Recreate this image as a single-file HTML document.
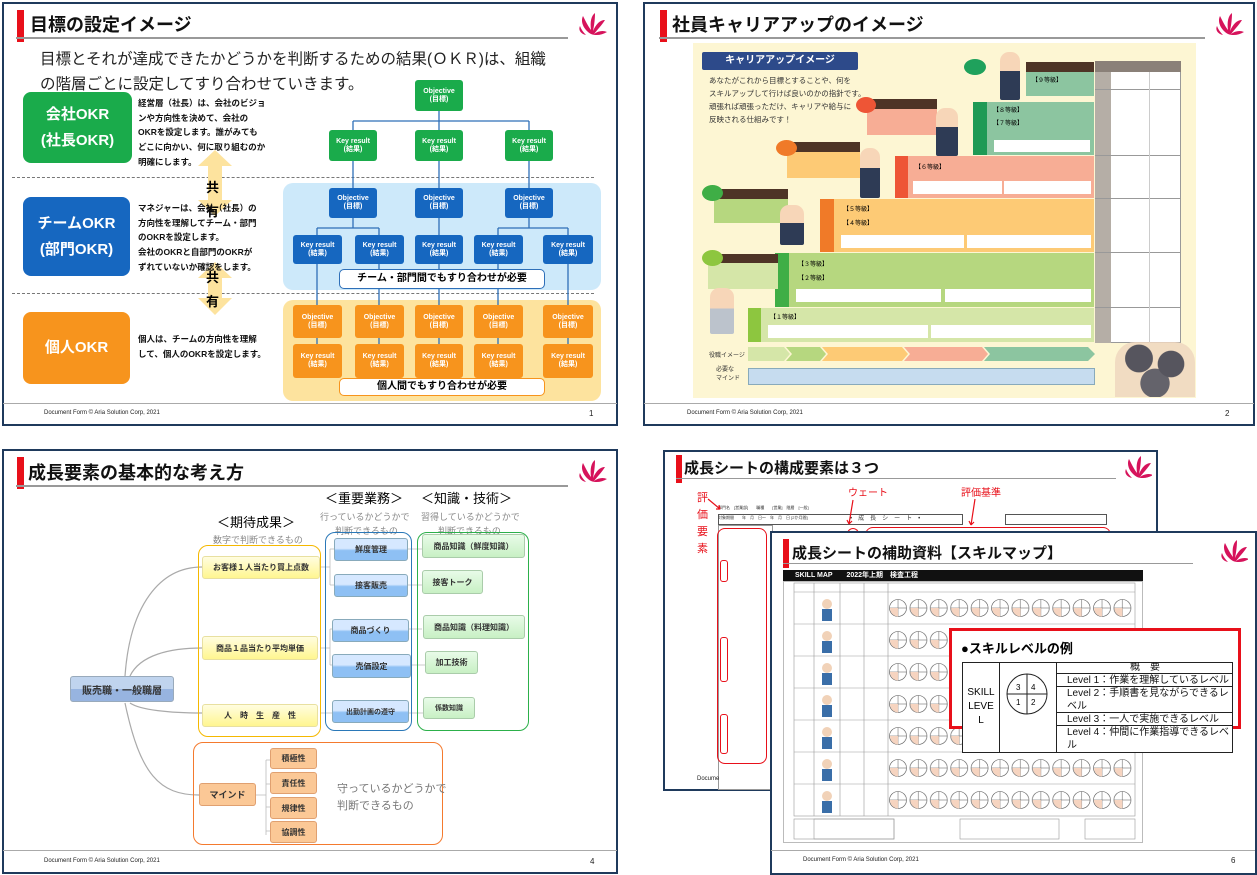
<!DOCTYPE html>
<html><head><meta charset="utf-8">
<style>
*{margin:0;padding:0;box-sizing:border-box}
body{width:1257px;height:875px;background:#fff;position:relative;overflow:hidden;font-family:"Liberation Sans","Noto Sans CJK JP",sans-serif;}
.a{position:absolute}
.sl{position:absolute;border:2px solid #1f3a5c;background:#fff}
.bar{position:absolute;width:7px;height:32px;background:#e8101a}
.tt{position:absolute;font-size:18px;font-weight:bold;color:#111;white-space:nowrap;line-height:20px}
.ul{position:absolute;height:2px;background:#999}
.ft{position:absolute;font-size:6px;color:#222;white-space:nowrap}
.fl{position:absolute;height:1px;background:#aaa}
.bx{position:absolute;color:#fff;font-weight:bold;text-align:center;border-radius:3px;font-size:7px;line-height:8px;display:flex;align-items:center;justify-content:center;flex-direction:column}
.big{position:absolute;color:#fff;font-weight:bold;font-size:15px;line-height:26px;border-radius:8px;display:flex;align-items:center;justify-content:center;text-align:center}
.d9{position:absolute;font-size:8.5px;font-weight:bold;line-height:14.7px;color:#111;white-space:nowrap}
.n{position:absolute;border-radius:3px;font-size:8px;font-weight:bold;color:#333;display:flex;align-items:center;justify-content:center;white-space:nowrap}
.y{background:linear-gradient(#fffde0,#fff690);border:1px solid #e8e0a0}
.b{background:linear-gradient(#d6e8ff 45%,#8ec0f4 55%);border:1px solid #8ab}
.g{background:linear-gradient(#e8fbe8,#c8f0c4);border:1px solid #aca}
.o{background:#fbc896;border:1px solid #e0a070}
.gr{position:absolute;font-size:9px;color:#888;white-space:nowrap}
</style></head><body>

<svg width="0" height="0" style="position:absolute"><defs>
<g id="logo"><path d="M15 22 C8 18 4 10 7 4 C10 10 12 14 15 18 C14 10 15 4 19 1 C19 8 18 14 17 19 C20 12 24 8 29 8 C26 13 21 18 18 22 C22 19 27 18 31 20 C26 23 20 24 15 22Z" fill="#d6135b"/><path d="M4 14 C2 18 5 22 10 23 C7 20 5 17 4 14Z" fill="#d6135b"/></g>
<pattern id="circ" x="888" y="592" width="20.4" height="32" patternUnits="userSpaceOnUse"><circle cx="10" cy="16" r="8.5" fill="#fff" stroke="#555" stroke-width=".6"/><path d="M10 7.5v17M1.5 16h17" stroke="#555" stroke-width=".5"/><path d="M2 16a8.5 8.5 0 0 0 8 8.5v-8.5z" fill="#f6d4c0"/></pattern>
</defs></svg>

<!-- ===== SLIDE 1 ===== -->
<div class="sl" style="left:2px;top:2px;width:616px;height:424px"></div>
<div class="bar" style="left:17px;top:10px"></div>
<div class="tt" style="left:30px;top:15px">目標の設定イメージ</div>
<div class="ul" style="left:16px;top:37px;width:552px"></div>
<svg class="a" style="left:576px;top:12px" width="34" height="26"><use href="#logo"/></svg>
<div class="a" style="left:40px;top:47px;font-size:15.5px;line-height:25px;color:#222;white-space:nowrap">目標とそれが達成できたかどうかを判断するための結果(ＯＫＲ)は、組織<br>の階層ごとに設定してすり合わせていきます。</div>
<div class="a" style="left:283px;top:183px;width:318px;height:107px;background:#cde9fa;border-radius:10px"></div>
<div class="a" style="left:283px;top:300px;width:318px;height:101px;background:#fde39e;border-radius:10px"></div>
<div class="a" style="left:12px;top:177px;width:582px;border-top:1.5px dashed #777"></div>
<div class="a" style="left:12px;top:293px;width:582px;border-top:1.5px dashed #777"></div>
<svg class="a" style="left:0;top:0" width="620" height="430">
<g stroke="#2e6fb8" stroke-width="1.3" fill="none">
<path d="M439 111V121M353 121H529M353 121V130M439 121V130M529 121V130"/>
<path d="M353 161V188M439 161V188M529 161V188"/>
<path d="M353 218V228M317 228H379M317 228V235M379 228V235M439 218V235M529 218V228M498 228H568M498 228V235M568 228V235"/>
<path d="M317 264V305M379 264V305M439 264V305M498 264V305M568 264V305"/>
<path d="M317 338V344M379 338V344M439 338V344M498 338V344M568 338V344"/>
</g>
<path d="M215 150L232 166H222V200H232L215 216L198 200H208V166H198Z" fill="#fde39e"/>
<path d="M215 262L232 278H222V298H232L215 315L198 298H208V278H198Z" fill="#fde39e"/>
</svg>
<div class="a" style="left:206px;top:176px;font-size:13px;font-weight:bold;line-height:24px">共<br>有</div>
<div class="a" style="left:206px;top:266px;font-size:13px;font-weight:bold;line-height:24px">共<br>有</div>
<div class="big" style="left:23px;top:92px;width:109px;height:71px;background:#1aab4b">会社OKR<br>(社長OKR)</div>
<div class="big" style="left:23px;top:197px;width:107px;height:79px;background:#1667c0">チームOKR<br>(部門OKR)</div>
<div class="big" style="left:23px;top:312px;width:107px;height:72px;background:#f7941d">個人OKR</div>
<div class="d9" style="left:138px;top:96px">経営層（社長）は、会社のビジョ<br>ンや方向性を決めて、会社の<br>OKRを設定します。誰がみても<br>どこに向かい、何に取り組むのか<br>明確にします。</div>
<div class="d9" style="left:138px;top:201px">マネジャーは、会社（社長）の<br>方向性を理解してチーム・部門<br>のOKRを設定します。<br>会社のOKRと自部門のOKRが<br>ずれていないか確認をします。</div>
<div class="d9" style="left:138px;top:332px">個人は、チームの方向性を理解<br>して、個人のOKRを設定します。</div>
<div class="bx" style="left:415px;top:80px;width:48px;height:31px;background:#1aab4b">Objective<br>(目標)</div>
<div class="bx" style="left:329px;top:130px;width:48px;height:31px;background:#1aab4b">Key result<br>(結果)</div>
<div class="bx" style="left:415px;top:130px;width:48px;height:31px;background:#1aab4b">Key result<br>(結果)</div>
<div class="bx" style="left:505px;top:130px;width:48px;height:31px;background:#1aab4b">Key result<br>(結果)</div>
<div class="bx" style="left:329px;top:188px;width:48px;height:30px;background:#1667c0">Objective<br>(目標)</div>
<div class="bx" style="left:415px;top:188px;width:48px;height:30px;background:#1667c0">Objective<br>(目標)</div>
<div class="bx" style="left:505px;top:188px;width:48px;height:30px;background:#1667c0">Objective<br>(目標)</div>
<div class="bx" style="left:293px;top:235px;width:49px;height:29px;background:#1667c0">Key result<br>(結果)</div>
<div class="bx" style="left:355px;top:235px;width:49px;height:29px;background:#1667c0">Key result<br>(結果)</div>
<div class="bx" style="left:415px;top:235px;width:48px;height:29px;background:#1667c0">Key result<br>(結果)</div>
<div class="bx" style="left:474px;top:235px;width:49px;height:29px;background:#1667c0">Key result<br>(結果)</div>
<div class="bx" style="left:543px;top:235px;width:50px;height:29px;background:#1667c0">Key result<br>(結果)</div>
<div class="a" style="left:339px;top:269px;width:206px;height:20px;background:#fff;border:1px solid #2e6fb8;border-radius:5px;font-size:10px;font-weight:bold;text-align:center;line-height:18px">チーム・部門間でもすり合わせが必要</div>
<div class="bx" style="left:293px;top:305px;width:49px;height:33px;background:#f7941d">Objective<br>(目標)</div>
<div class="bx" style="left:355px;top:305px;width:49px;height:33px;background:#f7941d">Objective<br>(目標)</div>
<div class="bx" style="left:415px;top:305px;width:48px;height:33px;background:#f7941d">Objective<br>(目標)</div>
<div class="bx" style="left:474px;top:305px;width:49px;height:33px;background:#f7941d">Objective<br>(目標)</div>
<div class="bx" style="left:543px;top:305px;width:50px;height:33px;background:#f7941d">Objective<br>(目標)</div>
<div class="bx" style="left:293px;top:344px;width:49px;height:34px;background:#f7941d">Key result<br>(結果)</div>
<div class="bx" style="left:355px;top:344px;width:49px;height:34px;background:#f7941d">Key result<br>(結果)</div>
<div class="bx" style="left:415px;top:344px;width:48px;height:34px;background:#f7941d">Key result<br>(結果)</div>
<div class="bx" style="left:474px;top:344px;width:49px;height:34px;background:#f7941d">Key result<br>(結果)</div>
<div class="bx" style="left:543px;top:344px;width:50px;height:34px;background:#f7941d">Key result<br>(結果)</div>
<div class="a" style="left:339px;top:378px;width:206px;height:18px;background:#fff;border:1px solid #f7941d;border-radius:5px;font-size:10px;font-weight:bold;text-align:center;line-height:16px">個人間でもすり合わせが必要</div>
<div class="fl" style="left:3px;top:403px;width:614px"></div>
<div class="ft" style="left:44px;top:410px">Document Form © Aria Solution Corp, 2021</div>
<div class="ft" style="left:589px;top:409px;font-size:8px">1</div>

<!-- ===== SLIDE 2 ===== -->
<div class="sl" style="left:643px;top:2px;width:612px;height:424px"></div>
<div class="bar" style="left:660px;top:10px"></div>
<div class="tt" style="left:672px;top:15px">社員キャリアアップのイメージ</div>
<div class="ul" style="left:659px;top:37px;width:546px"></div>
<svg class="a" style="left:1213px;top:12px" width="34" height="26"><use href="#logo"/></svg>
<div class="a" style="left:693px;top:43px;width:503px;height:355px;background:#fdf6d3"></div>
<div class="a" style="left:702px;top:52px;width:156px;height:18px;background:#2d4a8a;color:#fff;font-size:10px;font-weight:bold;text-align:center;line-height:18px;border-radius:2px">キャリアアップイメージ</div>
<div class="a" style="left:709px;top:74px;font-size:7.5px;line-height:13px;color:#333;white-space:nowrap">あなたがこれから目標とすることや、何を<br>スキルアップして行けば良いのかの指針です。<br>頑張れば頑張っただけ、キャリアや給与に<br>反映される仕組みです！</div>
<div class="a" style="left:1026px;top:62px;width:68px;height:10px;background:#4e3426"></div>
<div class="a" style="left:1026px;top:72px;width:68px;height:24px;background:#8cc5a0"></div>
<div class="a" style="left:1032px;top:75px;font-size:6px">【９等級】</div>
<div class="a" style="left:973px;top:102px;width:121px;height:53px;background:#8cc5a0"></div>
<div class="a" style="left:973px;top:102px;width:14px;height:53px;background:#1f9a55"></div>
<div class="a" style="left:994px;top:140px;width:96px;height:12px;background:#fff"></div>
<div class="a" style="left:993px;top:105px;font-size:6px;line-height:13px">【８等級】<br>【７等級】</div>
<div class="a" style="left:895px;top:156px;width:199px;height:42px;background:#f7ad95"></div>
<div class="a" style="left:895px;top:156px;width:13px;height:42px;background:#ee5536"></div>
<div class="a" style="left:913px;top:181px;width:89px;height:13px;background:#fff"></div>
<div class="a" style="left:1004px;top:181px;width:87px;height:13px;background:#fff"></div>
<div class="a" style="left:915px;top:162px;font-size:6px">【６等級】</div>
<div class="a" style="left:820px;top:199px;width:274px;height:53px;background:#fdca75"></div>
<div class="a" style="left:820px;top:199px;width:14px;height:53px;background:#f07a28"></div>
<div class="a" style="left:841px;top:235px;width:123px;height:13px;background:#fff"></div>
<div class="a" style="left:967px;top:235px;width:124px;height:13px;background:#fff"></div>
<div class="a" style="left:843px;top:203px;font-size:6px;line-height:14px">【５等級】<br>【４等級】</div>
<div class="a" style="left:775px;top:253px;width:319px;height:54px;background:#b6d77f"></div>
<div class="a" style="left:775px;top:253px;width:14px;height:54px;background:#3fae46"></div>
<div class="a" style="left:796px;top:289px;width:145px;height:13px;background:#fff"></div>
<div class="a" style="left:945px;top:289px;width:146px;height:13px;background:#fff"></div>
<div class="a" style="left:798px;top:258px;font-size:6px;line-height:14px">【３等級】<br>【２等級】</div>
<div class="a" style="left:748px;top:308px;width:346px;height:34px;background:#d5e6a8"></div>
<div class="a" style="left:748px;top:308px;width:13px;height:34px;background:#8dc63f"></div>
<div class="a" style="left:768px;top:325px;width:160px;height:13px;background:#fff"></div>
<div class="a" style="left:931px;top:325px;width:160px;height:13px;background:#fff"></div>
<div class="a" style="left:770px;top:312px;font-size:6px">【１等級】</div>
<div class="a" style="left:867px;top:99px;width:70px;height:10px;background:#4e3426"></div>
<div class="a" style="left:867px;top:109px;width:70px;height:26px;background:#f7ad95"></div>
<div class="a" style="left:787px;top:142px;width:73px;height:10px;background:#4e3426"></div>
<div class="a" style="left:787px;top:152px;width:73px;height:26px;background:#fdca75"></div>
<div class="a" style="left:714px;top:189px;width:74px;height:10px;background:#4e3426"></div>
<div class="a" style="left:714px;top:199px;width:74px;height:24px;background:#b6d77f"></div>
<div class="a" style="left:708px;top:254px;width:70px;height:9px;background:#4e3426"></div>
<div class="a" style="left:708px;top:263px;width:70px;height:26px;background:#d5e6a8"></div>
<div class="a" style="left:964px;top:59px;width:22px;height:16px;border-radius:50%;background:#1fa15c"></div>
<div class="a" style="left:856px;top:97px;width:20px;height:16px;border-radius:50%;background:#ee5536"></div>
<div class="a" style="left:776px;top:140px;width:21px;height:16px;border-radius:50%;background:#f07a28"></div>
<div class="a" style="left:702px;top:185px;width:21px;height:16px;border-radius:50%;background:#3fae46"></div>
<div class="a" style="left:702px;top:250px;width:21px;height:16px;border-radius:50%;background:#8dc63f"></div>
<div class="a" style="left:1000px;top:52px;width:20px;height:48px;background:linear-gradient(#f7d6b8 40%,#2e3b55 40%);border-radius:9px 9px 2px 2px"></div>
<div class="a" style="left:936px;top:108px;width:22px;height:48px;background:linear-gradient(#f7d6b8 40%,#2e3b55 40%);border-radius:9px 9px 2px 2px"></div>
<div class="a" style="left:860px;top:148px;width:20px;height:50px;background:linear-gradient(#f7d6b8 40%,#2e3b55 40%);border-radius:9px 9px 2px 2px"></div>
<div class="a" style="left:780px;top:205px;width:24px;height:40px;background:linear-gradient(#f7d6b8 45%,#2e3b55 45%);border-radius:9px 9px 2px 2px"></div>
<div class="a" style="left:710px;top:288px;width:24px;height:46px;background:linear-gradient(#f7d6b8 45%,#bcc3cc 45%);border-radius:9px 9px 2px 2px"></div>
<div class="a" style="left:1095px;top:61px;width:86px;height:282px;background:#fff;border:1px solid #999"></div>
<div class="a" style="left:1095px;top:61px;width:86px;height:11px;background:#8a8078"></div>
<div class="a" style="left:1095px;top:72px;width:16px;height:271px;background:#b5aea6"></div>
<div class="a" style="left:1095px;top:89px;width:86px;height:1px;background:#999"></div>
<div class="a" style="left:1095px;top:155px;width:86px;height:1px;background:#999"></div>
<div class="a" style="left:1095px;top:198px;width:86px;height:1px;background:#999"></div>
<div class="a" style="left:1095px;top:252px;width:86px;height:1px;background:#999"></div>
<div class="a" style="left:1095px;top:307px;width:86px;height:1px;background:#999"></div>
<div class="a" style="left:1149px;top:72px;width:1px;height:271px;background:#ccc"></div>
<div class="a" style="left:709px;top:350px;font-size:6px;color:#333">役職イメージ</div>
<svg class="a" style="left:748px;top:347px" width="350" height="16"><polygon points="0,0 36,0 42,7 36,14 0,14" fill="#d5e6a8"/><polygon points="38,0 72,0 78,7 72,14 38,14 44,7" fill="#b6d77f"/><polygon points="74,0 154,0 160,7 154,14 74,14 80,7" fill="#fdca75"/><polygon points="156,0 234,0 240,7 234,14 156,14 162,7" fill="#f7ad95"/><polygon points="236,0 340,0 347,7 340,14 236,14 242,7" fill="#8cc5a0"/></svg>
<div class="a" style="left:716px;top:366px;font-size:6px;color:#333;line-height:9px">必要な<br>マインド</div>
<div class="a" style="left:748px;top:368px;width:347px;height:17px;background:#c6dcef;border:1px solid #8ab"></div>
<div class="a" style="left:1115px;top:342px;width:80px;height:55px;background:radial-gradient(circle at 30% 30%,#3a3a4a 20%,transparent 21%),radial-gradient(circle at 70% 40%,#3a3a4a 20%,transparent 21%),radial-gradient(circle at 50% 75%,#4a4a5a 25%,transparent 26%),#f0d8c0;border-radius:20px 20px 0 0;opacity:.85"></div>
<div class="fl" style="left:644px;top:403px;width:610px"></div>
<div class="ft" style="left:687px;top:410px">Document Form © Aria Solution Corp, 2021</div>
<div class="ft" style="left:1225px;top:409px;font-size:8px">2</div>

<!-- ===== SLIDE 3 ===== -->
<div class="sl" style="left:2px;top:449px;width:616px;height:425px"></div>
<div class="bar" style="left:17px;top:457px"></div>
<div class="tt" style="left:28px;top:463px">成長要素の基本的な考え方</div>
<div class="ul" style="left:16px;top:485px;width:552px"></div>
<svg class="a" style="left:576px;top:459px" width="34" height="26"><use href="#logo"/></svg>
<div class="a" style="left:325px;top:488px;font-size:13px;white-space:nowrap">＜重要業務＞</div>
<div class="a" style="left:421px;top:488px;font-size:13px;white-space:nowrap">＜知識・技術＞</div>
<div class="gr" style="left:320px;top:510px">行っているかどうかで</div>
<div class="gr" style="left:421px;top:510px">習得しているかどうかで</div>
<div class="gr" style="left:335px;top:524px">判断できるもの</div>
<div class="gr" style="left:438px;top:524px">判断できるもの</div>
<div class="a" style="left:217px;top:512px;font-size:13px;white-space:nowrap">＜期待成果＞</div>
<div class="gr" style="left:213px;top:533px">数字で判断できるもの</div>
<svg class="a" style="left:0;top:445px" width="620" height="430">
<g stroke="#aaa" stroke-width="1.2" fill="none">
<path d="M125 231 C130 160 160 122 202 122"/>
<path d="M130 231 C140 210 170 203 202 203"/>
<path d="M130 258 C140 265 170 268 202 268"/>
<path d="M125 258 C140 330 160 350 199 350"/>
</g>
<g stroke="#bbb" stroke-width=".8" fill="none">
<path d="M320 122h10M330 104v36M330 104h4M330 140h4M320 203h10M330 184v36M330 184h4M330 220h4M320 268h14"/>
<path d="M408 104h14M408 140h14M408 184h14M408 220h17M408 268h15"/>
<path d="M256 350h10M266 315v75M266 315h4M266 339h4M266 362h4M266 386h4"/>
</g></svg>
<div class="a" style="left:198px;top:545px;width:123px;height:192px;border:1.5px solid #f5b800;border-radius:10px"></div>
<div class="a" style="left:325px;top:532px;width:87px;height:199px;border:1.5px solid #2a78b8;border-radius:10px"></div>
<div class="a" style="left:417px;top:532px;width:112px;height:199px;border:1.5px solid #2cb04a;border-radius:10px"></div>
<div class="a" style="left:193px;top:742px;width:250px;height:103px;border:1.5px solid #f47a2e;border-radius:10px"></div>
<div class="n" style="left:70px;top:676px;width:104px;height:26px;background:linear-gradient(#c0d4ee 50%,#97b4e0 50%);border:1px solid #9ab;font-size:10px">販売職・一般職層</div>
<div class="n y" style="left:202px;top:556px;width:118px;height:23px">お客様１人当たり買上点数</div>
<div class="n y" style="left:202px;top:636px;width:116px;height:24px">商品１品当たり平均単価</div>
<div class="n y" style="left:202px;top:704px;width:116px;height:23px">人　時　生　産　性</div>
<div class="n b" style="left:334px;top:538px;width:74px;height:23px">鮮度管理</div>
<div class="n b" style="left:334px;top:574px;width:74px;height:23px">接客販売</div>
<div class="n b" style="left:332px;top:619px;width:77px;height:23px">商品づくり</div>
<div class="n b" style="left:332px;top:654px;width:79px;height:24px">売価設定</div>
<div class="n b" style="left:332px;top:700px;width:77px;height:23px;font-size:7px">出勤計画の遵守</div>
<div class="n g" style="left:422px;top:534px;width:103px;height:24px">商品知識（鮮度知識）</div>
<div class="n g" style="left:422px;top:570px;width:61px;height:24px">接客トーク</div>
<div class="n g" style="left:423px;top:615px;width:102px;height:24px">商品知識（料理知識）</div>
<div class="n g" style="left:425px;top:651px;width:53px;height:23px">加工技術</div>
<div class="n g" style="left:423px;top:697px;width:52px;height:22px;font-size:7px">係数知識</div>
<div class="n o" style="left:199px;top:783px;width:57px;height:23px;font-size:9px">マインド</div>
<div class="n o" style="left:270px;top:748px;width:47px;height:21px">積極性</div>
<div class="n o" style="left:270px;top:772px;width:47px;height:22px">責任性</div>
<div class="n o" style="left:270px;top:797px;width:47px;height:22px">規律性</div>
<div class="n o" style="left:270px;top:821px;width:47px;height:22px">協調性</div>
<div class="a" style="left:337px;top:781px;font-size:11px;color:#777;line-height:17px;white-space:nowrap">守っているかどうかで<br>判断できるもの</div>
<div class="fl" style="left:3px;top:850px;width:614px"></div>
<div class="ft" style="left:44px;top:858px">Document Form © Aria Solution Corp, 2021</div>
<div class="ft" style="left:590px;top:857px;font-size:8px">4</div>

<!-- ===== SLIDE 4 back ===== -->
<div class="sl" style="left:663px;top:450px;width:495px;height:341px"></div>
<div class="bar" style="left:676px;top:455px;width:6px;height:28px"></div>
<div class="tt" style="left:684px;top:459px;font-size:15px">成長シートの構成要素は３つ</div>
<div class="ul" style="left:676px;top:478px;width:440px;height:1px"></div>
<svg class="a" style="left:1122px;top:455px" width="30" height="24"><use href="#logo"/></svg>
<div class="a" style="left:697px;top:490px;font-size:11px;color:#e8101a;line-height:17px;width:12px">評価要素</div>
<div class="a" style="left:848px;top:484px;font-size:10px;color:#e8101a">ウェート</div>
<div class="a" style="left:961px;top:484px;font-size:10px;color:#e8101a">評価基準</div>
<div class="a" style="left:718px;top:503px;font-size:4px;color:#333;line-height:10px;white-space:nowrap">部門名　[営業部]　　職種　　[営業]　階層　[一般]<br>対象期間　　年　月　日～　年　月　日 [2か月間]</div>
<div class="a" style="left:850px;top:513px;font-size:6px;color:#333;letter-spacing:6px">•成長シート•</div>
<div class="a" style="left:718px;top:514px;width:245px;height:11px;border:1px solid #555"></div>
<div class="a" style="left:1005px;top:514px;width:102px;height:11px;border:1px solid #555"></div>
<div class="a" style="left:718px;top:525px;width:55px;height:265px;border:1px solid #999;background:#fff"></div>
<div class="a" style="left:717px;top:528px;width:50px;height:236px;border:1.5px solid #e8101a;border-radius:8px"></div>
<div class="a" style="left:720px;top:560px;width:8px;height:22px;border:1.5px solid #e8101a;border-radius:3px"></div>
<div class="a" style="left:720px;top:637px;width:8px;height:45px;border:1.5px solid #e8101a;border-radius:3px"></div>
<div class="a" style="left:720px;top:714px;width:8px;height:40px;border:1.5px solid #e8101a;border-radius:3px"></div>
<div class="a" style="left:847px;top:528px;width:12px;height:6px;border:1.5px solid #e8101a;border-radius:6px 6px 0 0;border-bottom:none"></div>
<div class="a" style="left:865px;top:527px;width:246px;height:8px;border:1.5px solid #e8101a;border-radius:8px 8px 0 0;border-bottom:none"></div>
<svg class="a" style="left:690px;top:495px" width="180" height="40"><g stroke="#e8101a" stroke-width="1.2" fill="none"><path d="M18 4l12 10M30 14l-4 0M30 14l-1-4"/><path d="M163 5l-4 24M159 29l-2-4M159 29l3-3"/></g></svg>
<svg class="a" style="left:955px;top:495px" width="30" height="40"><g stroke="#e8101a" stroke-width="1.2" fill="none"><path d="M20 4l-4 26M16 30l-2-4M16 30l3-3"/></g></svg>
<div class="ft" style="left:697px;top:776px">Docume</div>

<!-- ===== SLIDE 4 front ===== -->
<div class="sl" style="left:770px;top:531px;width:487px;height:344px"></div>
<div class="bar" style="left:783px;top:539px;width:6px;height:29px"></div>
<div class="tt" style="left:792px;top:544px;font-size:15px">成長シートの補助資料【スキルマップ】</div>
<div class="ul" style="left:783px;top:563px;width:410px;height:1px"></div>
<svg class="a" style="left:1218px;top:539px" width="30" height="24"><use href="#logo"/></svg>
<div class="a" style="left:783px;top:570px;width:360px;height:11px;background:#111;color:#fff;font-size:7px;font-weight:bold;line-height:11px;padding-left:12px;white-space:nowrap">SKILL MAP　　2022年上期　検査工程</div>
<div class="a" style="left:783px;top:581px;width:360px;height:262px;border:1px solid #bbb;background:#fff"></div>
<svg class="a" style="left:0;top:0" width="1257" height="875">
<rect x="888" y="592" width="245" height="224" fill="url(#circ)"/>
<g stroke="#999" stroke-width=".6" fill="none">
<rect x="794" y="583" width="341" height="233"/>
<path d="M794 592H1135M794 624H1135M794 656H1135M794 688H1135M794 720H1135M794 752H1135M794 784H1135"/>
<path d="M814 583V816M840 583V816M864 583V816M888 583V816"/>
</g>
<g fill="#f1d2b8"><circle cx="827" cy="604" r="5"/><circle cx="827" cy="636" r="5"/><circle cx="827" cy="668" r="5"/><circle cx="827" cy="700" r="5"/><circle cx="827" cy="732" r="5"/><circle cx="827" cy="764" r="5"/><circle cx="827" cy="796" r="5"/></g>
<g fill="#3a6ea8"><rect x="822" y="609" width="10" height="12"/><rect x="822" y="641" width="10" height="12"/><rect x="822" y="673" width="10" height="12"/><rect x="822" y="705" width="10" height="12"/><rect x="822" y="737" width="10" height="12"/><rect x="822" y="769" width="10" height="12"/><rect x="822" y="801" width="10" height="12"/></g>
<g stroke="#999" stroke-width=".6" fill="none"><rect x="794" y="819" width="100" height="20"/><rect x="814" y="819" width="80" height="20"/><rect x="960" y="819" width="99" height="20"/><rect x="1085" y="819" width="50" height="20"/></g>
</svg>
<div class="a" style="left:949px;top:628px;width:292px;height:101px;border:3px solid #e8101a;background:#fff"></div>
<div class="a" style="left:961px;top:638px;font-size:13px;font-weight:bold;white-space:nowrap">●スキルレベルの例</div>
<div class="a" style="left:962px;top:662px;width:271px;height:91px;background:#fff;border:1.5px solid #222"></div>
<div class="a" style="left:999px;top:662px;width:1px;height:91px;background:#222"></div>
<div class="a" style="left:1056px;top:662px;width:1px;height:91px;background:#222"></div>
<div class="a" style="left:964px;top:686px;font-size:10px;line-height:14px;text-align:center;width:34px">SKILL<br>LEVE<br>L</div>
<svg class="a" style="left:1005px;top:672px" width="45" height="45"><circle cx="22" cy="22" r="20" fill="#fff" stroke="#222"/><path d="M22 2v40M2 22h40" stroke="#222"/><text x="11" y="18" font-size="8" font-family="Liberation Sans">3</text><text x="26" y="18" font-size="8" font-family="Liberation Sans">4</text><text x="11" y="33" font-size="8" font-family="Liberation Sans">1</text><text x="26" y="33" font-size="8" font-family="Liberation Sans">2</text></svg>
<div class="a" style="left:1057px;top:662px;width:176px;font-size:10px;line-height:13px;color:#111;overflow:hidden">
<div style="text-align:center;border-bottom:1px solid #222;height:12px;line-height:12px">概　要</div>
<div style="padding-left:10px;border-bottom:1px solid #222;white-space:nowrap;height:13px;overflow:hidden">Level 1：作業を理解しているレベル</div>
<div style="padding-left:10px;border-bottom:1px solid #222;height:26px;word-break:break-all">Level 2：手順書を見ながらできるレベル</div>
<div style="padding-left:10px;border-bottom:1px solid #222;white-space:nowrap;height:13px">Level 3：一人で実施できるレベル</div>
<div style="padding-left:10px;word-break:break-all">Level 4：仲間に作業指導できるレベル</div>
</div>
<div class="fl" style="left:771px;top:850px;width:484px"></div>
<div class="ft" style="left:803px;top:857px">Document Form © Aria Solution Corp, 2021</div>
<div class="ft" style="left:1231px;top:856px;font-size:8px">6</div>
</body></html>
